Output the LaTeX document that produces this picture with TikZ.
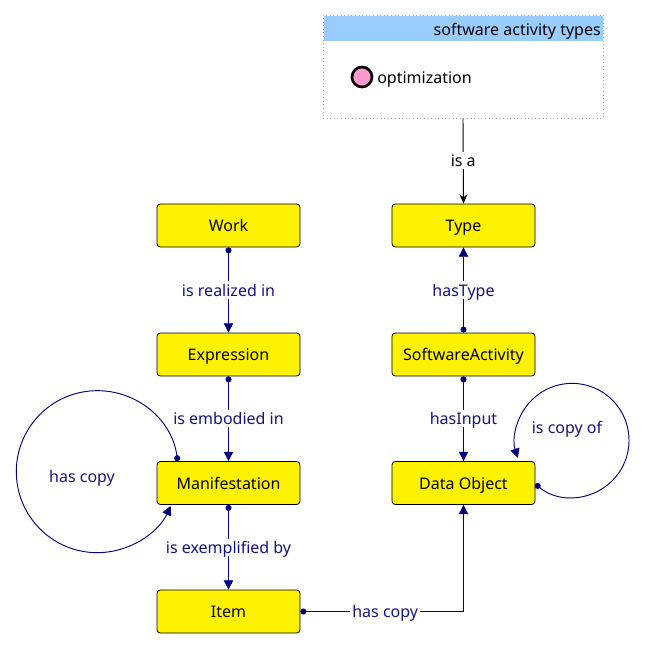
\documentclass[tikz,border=0pt]{standalone}
\usepackage{fontspec}
\setmainfont{Noto Sans}
\usetikzlibrary{arrows.meta}
\definecolor{navyc}{RGB}{0,0,128}
\definecolor{lbltxt}{RGB}{20,20,130}
\definecolor{hdrblue}{RGB}{153,204,255}
\definecolor{pinkc}{RGB}{255,153,204}
\definecolor{dotgray}{RGB}{160,160,170}
\begin{document}
\begin{tikzpicture}[x=0.75pt,y=-0.75pt,
  font=\fontsize{12pt}{14pt}\selectfont,
  every node/.style={text height=0.95em, text depth=0.05em},
  cls/.style={draw=black, fill=yellow, rounded corners=2.5pt, line width=0.6pt,
    minimum width=143*0.75pt, minimum height=43*0.75pt, inner sep=0pt},
  rel/.style={draw=navyc, line width=0.7pt, {Circle[length=4.5pt]}-{Triangle[length=7pt,width=7pt]}},
  lbl/.style={fill=white, text=lbltxt, inner sep=1.5pt},
  blbl/.style={fill=white, text=black, inner sep=1.5pt}
]
\useasboundingbox (0,0) rectangle (645,650);

% vocabulary box
\node[draw=dotgray, dotted, line width=0.7pt, minimum width=280*0.75pt, minimum height=103*0.75pt, inner sep=0pt, text height=, text depth=] (vocab) at (463,66.5) {};
\fill[hdrblue] (323.5,15.5) rectangle (602.5,41);
\node[anchor=east, inner sep=0pt] (vtitle) at (601,29) {software activity types};
\node[circle, draw=black, line width=2pt, fill=pinkc, minimum size=20*0.75pt, inner sep=0pt, text height=, text depth=] (optdot) at (362,77) {};
\node[anchor=west, inner sep=0pt] (opt) at (377,77.5) {optimization};

% classes
\node[cls] (work) at (228.5,225.5) {Work};
\node[cls] (type) at (463.5,225.5) {Type};
\node[cls] (expr) at (228.5,354.5) {Expression};
\node[cls] (swa) at (463.5,354.5) {SoftwareActivity};
\node[cls] (man) at (228.5,483) {Manifestation};
\node[cls] (dobj) at (463.5,483) {Data Object};
\node[cls] (item) at (228.5,611.5) {Item};

% is a
\draw[line width=0.7pt, -{Stealth[length=7pt,width=6pt]}] (vocab.south) -- (type.north)
  node[pos=0.49, blbl] (isa) {is a};

% relations
\draw[rel] (work.south) -- (expr.north) node[midway, lbl] (l1) {is realized in};
\draw[rel] (expr.south) -- (man.north) node[midway, lbl] (l2) {is embodied in};
\draw[rel] (man.south) -- (item.north) node[midway, lbl] (l3) {is exemplified by};
\draw[rel] (swa.north) -- (type.south) node[midway, lbl] (l4) {hasType};
\draw[rel] (swa.south) -- (dobj.north) node[midway, lbl] (l5) {hasInput};
\draw[rel] (item.east) -| (dobj.south) node[pos=0.26, lbl] (l6) {has copy};

% self loops
\draw[rel] ([xshift=21*0.75pt]man.north west) arc[start angle=-7.5, end angle=-335, radius=81];
\node[text=lbltxt] (l7) at (82,476) {has copy};
\draw[rel] (dobj.east) ++(0,1) arc[start angle=130, end angle=-198, radius=57];
\node[text=lbltxt] (l8) at (567,427) {is copy of};
\end{tikzpicture}
\end{document}
